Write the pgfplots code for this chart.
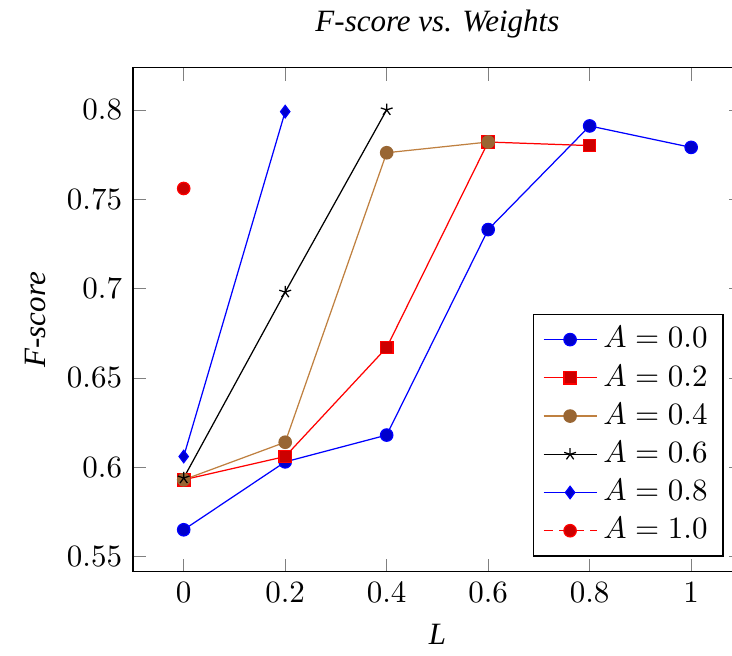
\documentclass[border=0pt]{standalone}
\usepackage{fontspec}
\setmainfont{Liberation Serif}
\usepackage{pgfplots}
\pgfplotsset{compat=1.18}
\begin{document}
\begin{tikzpicture}
\begin{axis}[name=ax, scale only axis, width=196.5pt, height=162.6pt,
  xmin=-0.1, xmax=1.1, ymin=0.5415, ymax=0.8235,
  xtick={0,0.2,0.4,0.6,0.8,1},
  ytick={0.55,0.6,0.65,0.7,0.75,0.8},
  yticklabel style={/pgf/number format/fixed, /pgf/number format/precision=2},
  title={\textit{F-score vs. Weights}},
  xlabel={\textit{L}}, ylabel={\textit{F-score}},
  legend pos=south east, legend cell align=left,
]
\addplot[blue, mark=*, mark options={fill=blue!80!black}] coordinates {(0,0.565)(0.2,0.603)(0.4,0.618)(0.6,0.733)(0.8,0.791)(1,0.779)};
\addlegendentry{$A=0.0$}
\addplot[red, mark=square*, mark options={fill=red!80!black}] coordinates {(0,0.593)(0.2,0.606)(0.4,0.667)(0.6,0.782)(0.8,0.780)};
\addlegendentry{$A=0.2$}
\addplot[brown, mark=*, mark options={fill=brown!80!black, draw=brown!80!black}] coordinates {(0,0.593)(0.2,0.614)(0.4,0.776)(0.6,0.782)};
\addlegendentry{$A=0.4$}
\addplot[black, mark=star] coordinates {(0,0.594)(0.2,0.698)(0.4,0.800)};
\addlegendentry{$A=0.6$}
\addplot[blue, mark=diamond*, mark options={fill=blue!80!black}] coordinates {(0,0.606)(0.2,0.799)};
\addlegendentry{$A=0.8$}
\addplot[red, densely dashed, mark=*, mark options={fill=red!80!black, solid}] coordinates {(0,0.756)};
\addlegendentry{$A=1.0$}
\end{axis}
\pgfresetboundingbox
\path ([xshift=-42.9pt, yshift=-27.1pt]ax.south west) rectangle ([xshift=-3.2pt, yshift=21.9pt]ax.north east);
\end{tikzpicture}
\end{document}
